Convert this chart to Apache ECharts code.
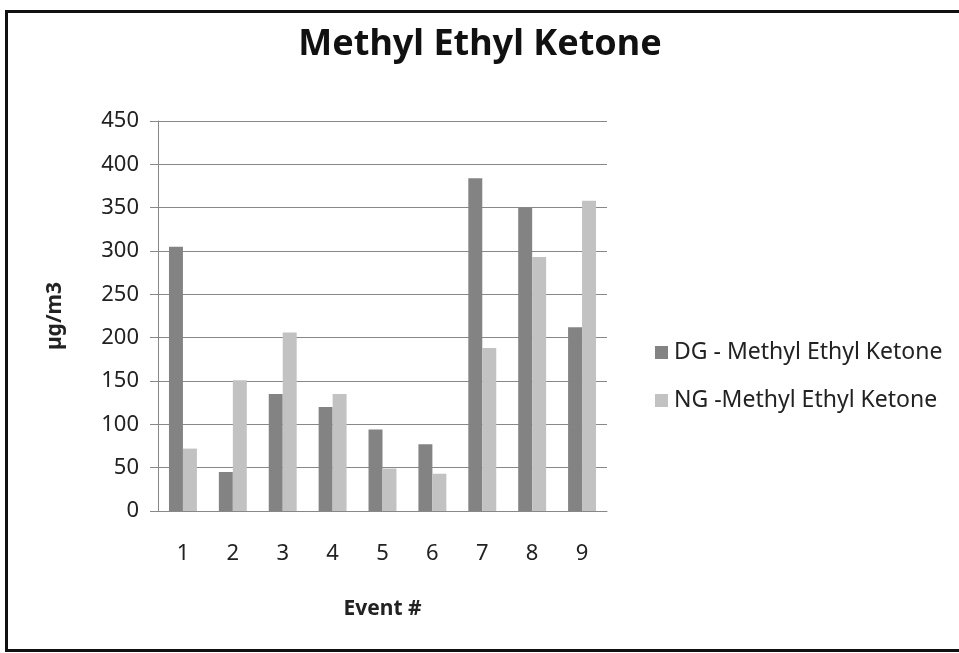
<!DOCTYPE html>
<html>
<head>
<meta charset="utf-8">
<script src="https://cdn.jsdelivr.net/npm/echarts@6/dist/echarts.min.js"></script>
<style>
  html, body { margin: 0; padding: 0; background: #fff; }
  #chart { width: 959px; height: 653px; }
</style>
</head>
<body>
<div id="chart"></div>
<script>
// chart data
const events = ["1", "2", "3", "4", "5", "6", "7", "8", "9"];
const dgValues = [305, 45, 135, 120, 94, 77, 384, 350, 212];
const ngValues = [72, 151, 206, 135, 49, 43, 188, 293, 358];
const yTicks = { min: 0, max: 450, interval: 50 };

const font = "'Noto Sans', 'Open Sans', sans-serif";

const myChart = echarts.init(document.getElementById("chart"));
const option = {
  backgroundColor: "#fff",
  animation: false,
  textStyle: { fontFamily: font },
  title: {
    text: "Methyl Ethyl Ketone",
    left: 475,
    top: 22,
    textAlign: "center",
    textStyle: { fontSize: 36, fontWeight: "bold", color: "#111", fontFamily: font }
  },
  legend: {
    orient: "vertical",
    left: 650,
    top: 336,
    itemWidth: 13,
    itemHeight: 13,
    itemGap: 25,
    icon: "rect",
    textStyle: { fontSize: 23, color: "#222", fontFamily: font, padding: [0, 0, 0, 1] },
    data: ["DG - Methyl Ethyl Ketone", "NG -Methyl Ethyl Ketone"]
  },
  grid: { left: 158, right: 352, top: 121, bottom: 142 },
  xAxis: {
    type: "category",
    data: events,
    name: "Event #",
    nameLocation: "middle",
    nameGap: 88,
    nameTextStyle: { fontSize: 21, fontWeight: "bold", color: "#222", fontFamily: font },
    axisLine: { lineStyle: { color: "#888", width: 1 } },
    axisTick: { show: false },
    axisLabel: { fontSize: 22, color: "#222", margin: 32, fontFamily: font }
  },
  yAxis: {
    type: "value",
    min: yTicks.min,
    max: yTicks.max,
    interval: yTicks.interval,
    name: "µg/m3",
    nameLocation: "middle",
    nameGap: 92,
    nameRotate: 90,
    nameTextStyle: { fontSize: 21, fontWeight: "bold", color: "#222", fontFamily: font },
    axisLine: { show: true, lineStyle: { color: "#888", width: 1 } },
    axisTick: { show: true, length: 8, lineStyle: { color: "#888" } },
    axisLabel: { fontSize: 22, color: "#222", margin: 19, fontFamily: font },
    splitLine: { lineStyle: { color: "#888", width: 1 } }
  },
  series: [
    {
      name: "DG - Methyl Ethyl Ketone",
      type: "bar",
      data: dgValues,
      barGap: "0%",
      barCategoryGap: "44%",
      itemStyle: { color: "#838383" }
    },
    {
      name: "NG -Methyl Ethyl Ketone",
      type: "bar",
      data: ngValues,
      itemStyle: { color: "#c2c2c2" }
    }
  ],
  graphic: [
    {
      type: "rect",
      shape: { x: 6.5, y: 11.5, width: 960, height: 639 },
      style: { fill: "none", stroke: "#111", lineWidth: 3 },
      silent: true
    }
  ]
};
myChart.setOption(option);
window.addEventListener("resize", function() {
  myChart.resize();
});
</script>
</body>
</html>
